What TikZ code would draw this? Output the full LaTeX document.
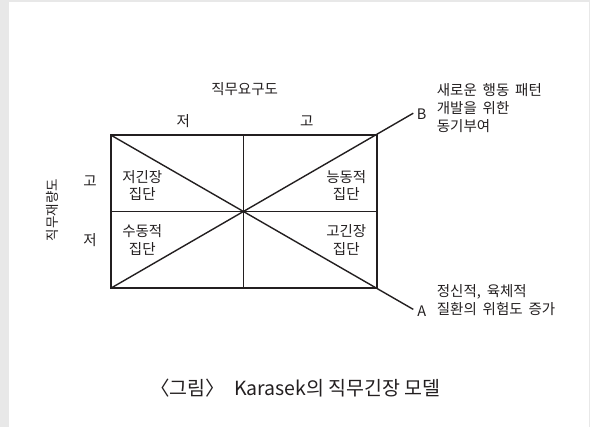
\documentclass[tikz,border=0pt]{standalone}
\usepackage{fontspec}
\setmainfont{Noto Sans CJK KR}
\definecolor{bggray}{HTML}{E8E8E8}
\definecolor{ink}{HTML}{231F20}
\newcommand{\mywidespaces}{\spaceskip=5.8pt\relax}
\begin{document}
\begin{tikzpicture}[x=1pt,y=-1pt,
  lbl/.style={font=\fontsize{14.5}{17.5}\selectfont, inner sep=0pt, align=center, text=ink},
  lblleft/.style={font=\fontsize{14.5}{18}\selectfont\mywidespaces, inner sep=0pt, align=left, text=ink, anchor=west},
  captiontext/.style={font=\fontsize{19.5}{22}\selectfont, inner sep=0pt, text=ink},
  frame/.style={draw=ink, line width=1.8pt},
  divider/.style={draw=ink, line width=1.1pt},
  diag/.style={draw=ink, line width=1.4pt}]
\fill[bggray] (0,0) rectangle (590,427);
\fill[white] (9,2) rectangle (589,427);
\useasboundingbox (0,0) rectangle (590,427);
% grid coordinates
\coordinate (TL) at (110.7,135);
\coordinate (TR) at (376.7,135);
\coordinate (BL) at (110.7,288.3);
\coordinate (BR) at (376.7,288.3);
\coordinate (Tm) at (243.7,135);
\coordinate (Bm) at (243.7,288.3);
\coordinate (Lm) at (110.7,211.7);
\coordinate (Rm) at (376.7,211.7);
\coordinate (Bend) at (413.3,113.2);
\coordinate (Aend) at (413.3,309.4);
% dividers and diagonals
\draw[divider] (Tm) -- (Bm);
\draw[divider] (Lm) -- (Rm);
\draw[diag] (BL) -- (Bend);
\draw[diag] (TL) -- (Aend);
\draw[frame] (TL) rectangle (BR);
% labels
\node[lbl] (demand) at (244.6,89.3) {직무요구도};
\node[lbl] (dlow) at (183.3,120.7) {저};
\node[lbl] (dhigh) at (306.7,120.7) {고};
\node[lbl, font=\fontsize{13.5}{16}\selectfont, rotate=90] (control) at (52,210) {직무재량도};
\node[lbl] (chigh) at (90,181) {고};
\node[lbl] (clow) at (90,240) {저};
\node[lbl] (lowstrain) at (142.3,185.4) {저긴장\\집단};
\node[lbl] (passive) at (142.3,240.2) {수동적\\집단};
\node[lbl] (active) at (346.3,185.4) {능동적\\집단};
\node[lbl] (highstrain) at (346.3,240.2) {고긴장\\집단};
\node[lbl, anchor=center] (B) at (421.7,114) {B};
\node[lbl, anchor=center] (A) at (421.7,311.3) {A};
\node[lblleft] (Btext) at (436.7,108.5) {새로운 행동 패턴\\개발을 위한\\동기부여};
\node[lblleft] (Atext) at (436.7,299.7) {정신적, 육체적\\질환의 위험도 증가};
\node[captiontext] (caption) at (295.5,388.3) {〈그림〉\ \ Karasek의 직무긴장 모델};
\end{tikzpicture}
\end{document}
